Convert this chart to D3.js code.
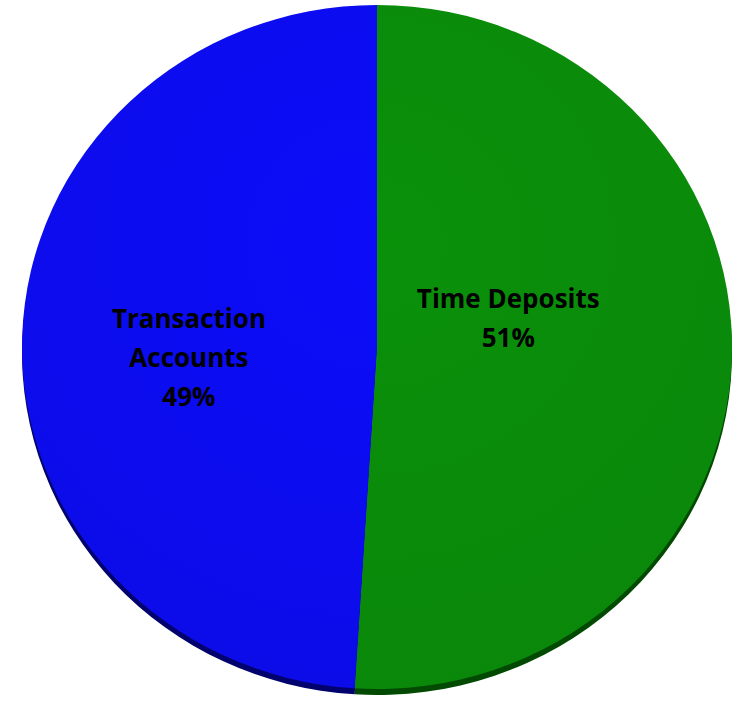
<!DOCTYPE html>
<html>
<head>
<meta charset="utf-8">
<script src="https://cdn.jsdelivr.net/npm/d3@7"></script>
<style>
  body { margin: 0; background: #fff; }
  svg { display: block; }
  .lbl { font-family: "Open Sans", Lato, sans-serif; font-weight: 700; font-size: 26px; fill: #000; }
</style>
</head>
<body>
<svg id="chart" width="732" height="704"></svg>
<script>
// data
var categories = ["Time Deposits", "Transaction Accounts"]
var values = [51, 49]
var labelLines = [["Time Deposits", "51%"], ["Transaction", "Accounts", "49%"]]

// colours
var topColors = ["#0a8c0a", "#0c0cf0"]
var sideColors = ["#024a02", "#02026e"]

var svg = d3.select("#chart")

var cx = 377, cy = 347
var rx = 355, ry = 342
var depth = 6

var pie = d3.pie().sort(null).value(function (d) { return d })
var arcs = pie(values)

var arc = d3.arc().innerRadius(0).outerRadius(rx)

// gradients for a soft shading
var defs = svg.append("defs")
topColors.forEach(function (c, i) {
    var g = defs.append("radialGradient")
        .attr("id", "grad" + i)
        .attr("gradientUnits", "userSpaceOnUse")
        .attr("cx", 0).attr("cy", -rx * 0.3).attr("r", rx * 1.3)
    g.append("stop").attr("offset", "0%").attr("stop-color", d3.color(c).brighter(0.1))
    g.append("stop").attr("offset", "100%").attr("stop-color", d3.color(c).darker(0.08))
})

// side / shadow layer
var side = svg.append("g")
    .attr("transform", "translate(" + cx + "," + (cy + depth) + ") scale(1," + (ry / rx) + ")")
side.selectAll("path")
    .data(arcs)
    .enter()
    .append("path")
    .attr("d", arc)
    .attr("fill", function (d, i) { return sideColors[i] })

// top face
var topFace = svg.append("g")
    .attr("transform", "translate(" + cx + "," + cy + ") scale(1," + (ry / rx) + ")")
topFace.selectAll("path")
    .data(arcs)
    .enter()
    .append("path")
    .attr("d", arc)
    .attr("fill", function (d, i) { return "url(#grad" + i + ")" })

// labels
var labelRadius = [0.37, 0.53]
var labelShift = [-32, 17]
var lineH = 39
arcs.forEach(function (a, i) {
    var mid = (a.startAngle + a.endAngle) / 2
    var lx = cx + Math.sin(mid) * rx * labelRadius[i]
    var ly = cy - Math.cos(mid) * ry * labelRadius[i] + labelShift[i]
    var lines = labelLines[i]
    var t = svg.append("text")
        .attr("class", "lbl")
        .attr("text-anchor", "middle")
    lines.forEach(function (s, j) {
        t.append("tspan")
            .attr("x", lx)
            .attr("y", ly + (j - (lines.length - 1) / 2) * lineH + 9)
            .text(s)
    })
})
</script>
</body>
</html>
